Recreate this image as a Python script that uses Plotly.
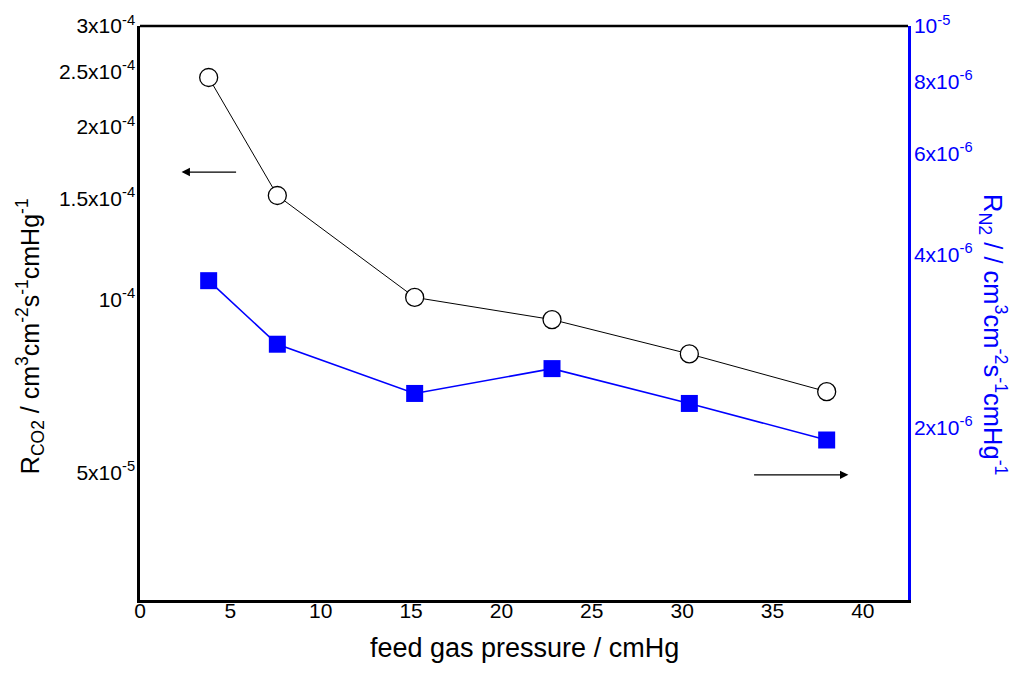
import math
import plotly.graph_objects as go

pressure = [3.8, 7.6, 15.2, 22.8, 30.4, 38.0]
r_co2 = [2.44e-4, 1.52e-4, 1.01e-4, 9.24e-5, 8.05e-5, 6.92e-5]
r_n2 = [3.60e-6, 2.79e-6, 2.29e-6, 2.53e-6, 2.20e-6, 1.90e-6]

left_tickvals = [5e-5, 1e-4, 1.5e-4, 2e-4, 2.5e-4, 3e-4]
left_ticktext = ["5x10<sup>-5</sup>", "10<sup>-4</sup>", "1.5x10<sup>-4</sup>",
                 "2x10<sup>-4</sup>", "2.5x10<sup>-4</sup>", "3x10<sup>-4</sup>"]
right_tickvals = [2e-6, 4e-6, 6e-6, 8e-6, 1e-5]
right_ticktext = ["2x10<sup>-6</sup>", "4x10<sup>-6</sup>", "6x10<sup>-6</sup>",
                  "8x10<sup>-6</sup>", "10<sup>-5</sup>"]
x_ticks = [0, 5, 10, 15, 20, 25, 30, 35, 40]

FONT = "Liberation Sans, Arial, sans-serif"
BLUE = "#0000ff"
TICK = 21

fig = go.Figure()
fig.add_trace(go.Scatter(
    x=pressure, y=r_co2, mode="lines+markers", name="CO2",
    line=dict(color="black", width=1),
    marker=dict(symbol="circle", size=18, color="white",
                line=dict(color="black", width=1.3)),
    yaxis="y"))
fig.add_trace(go.Scatter(
    x=pressure, y=r_n2, mode="lines+markers", name="N2",
    line=dict(color=BLUE, width=1.6),
    marker=dict(symbol="square", size=17, color=BLUE,
                line=dict(color=BLUE, width=0)),
    yaxis="y2"))

fig.update_layout(
    width=1024, height=675,
    margin=dict(l=132, r=124, t=18, b=83, autoexpand=False),
    paper_bgcolor="white", plot_bgcolor="white",
    showlegend=False,
    font=dict(family=FONT, size=TICK, color="black"),
    xaxis=dict(range=[0, 42.5], tickvals=x_ticks, ticks="", showgrid=False,
               zeroline=False, showline=True, linecolor="black", linewidth=2.5,
               tickfont=dict(size=TICK), ticklabelstandoff=-10, automargin=False),
    yaxis=dict(type="log", range=[math.log10(3e-5), math.log10(3e-4)],
               tickvals=left_tickvals, ticktext=left_ticktext, ticks="",
               showgrid=False, zeroline=False, showline=True, linecolor="black",
               linewidth=2.5, tickfont=dict(size=TICK), ticklabelstandoff=-2,
               automargin=False),
    yaxis2=dict(type="log", range=[-6, -5], overlaying="y", side="right",
                tickvals=right_tickvals, ticktext=right_ticktext, ticks="",
                showgrid=False, zeroline=False, showline=True, linecolor=BLUE,
                linewidth=2.5, tickfont=dict(size=TICK, color=BLUE),
                ticklabelstandoff=-1, automargin=False),
)

# top border
fig.add_shape(type="line", xref="paper", yref="paper", x0=0, x1=1, y0=1, y1=1,
              line=dict(color="black", width=2.5))

# axis titles
fig.add_annotation(xref="paper", yref="paper", x=0.5, y=-0.0836,
                   xanchor="center", yanchor="middle", showarrow=False,
                   text="feed gas pressure / cmHg", font=dict(size=27, color="black"))
fig.add_annotation(xref="paper", yref="paper", x=-0.143, y=0.46,
                   xanchor="center", yanchor="middle", showarrow=False, textangle=-90,
                   text="R<sub>CO2</sub> / cm<sup>3</sup>cm<sup>-2</sup>s<sup>-1</sup>cmHg<sup>-1</sup>",
                   font=dict(size=25, color="black"))
fig.add_annotation(xref="paper", yref="paper", x=1.1107, y=0.4617,
                   xanchor="center", yanchor="middle", showarrow=False, textangle=90,
                   text="R<sub>N2</sub> / / cm<sup>3</sup>cm<sup>-2</sup>s<sup>-1</sup>cmHg<sup>-1</sup>",
                   font=dict(size=25.5, color=BLUE))

# direction arrows
fig.add_annotation(x=2.3, y=math.log10(1.67e-4), ax=5.4, ay=math.log10(1.67e-4),
                   xref="x", yref="y", axref="x", ayref="y", text="",
                   showarrow=True, arrowhead=2, arrowsize=1.4, arrowwidth=1.2, arrowcolor="black")
fig.add_annotation(x=39.2, y=-5.782, ax=33.9, ay=-5.782,
                   xref="x", yref="y2", axref="x", ayref="y2", text="",
                   showarrow=True, arrowhead=2, arrowsize=1.4, arrowwidth=1.2, arrowcolor="black")

fig.write_html("out.html")
